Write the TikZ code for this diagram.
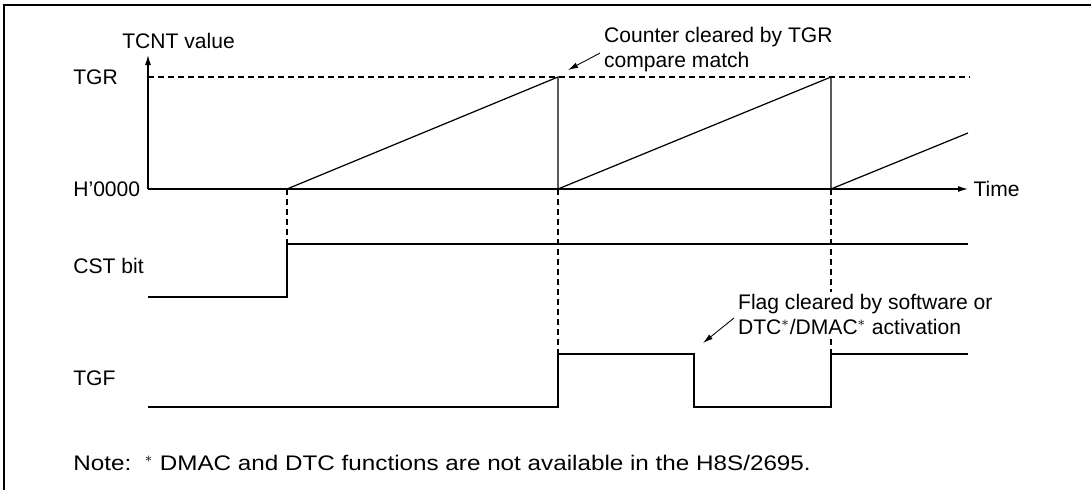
\documentclass[tikz,border=0pt]{standalone}
\usepackage{fontspec}
\setmainfont{Liberation Sans}
\newfontfamily\notefont[FakeStretch=1.15]{Liberation Sans}
\usetikzlibrary{arrows.meta}

\begin{document}
\begin{tikzpicture}[
  x=0.02cm, y=-0.02cm,
  lbl/.style     = {font=\fontsize{12}{14.2}\selectfont, inner sep=0pt},
  callnote/.style = {lbl, align=left, fill=white, inner sep=1pt},
  sig/.style     = {line width=0.7pt, line join=miter},
  guide/.style   = {line width=0.6pt, dash pattern=on 3.4pt off 2.3pt},
  axis/.style    = {line width=0.7pt, -{Latex[length=5.7pt,width=3.4pt]}},
  callout/.style = {line width=0.5pt, -{Latex[length=5.7pt,width=3.2pt]}}
]
\useasboundingbox (0,0) rectangle (1091,490);

% ---- frame ----
\draw[line width=0.8pt] (4,490) -- (4,5) -- (1091,5);

% ---- TCNT value axis ----
\coordinate (o)    at (148,189);
\coordinate (ytop) at (148,55);
\node[lbl, anchor=base west] (tcntlbl) at (122,48) {TCNT value};
\node[lbl, anchor=base west] (tgrlbl)  at (73,84)  {TGR};
\node[lbl, anchor=base west] (zerolbl) at (73,196) {H'0000};
\node[lbl, anchor=west, inner sep=3pt] (timelbl) at (968,189) {Time};
\draw[axis] (o) -- (ytop);
\draw[axis] (o) -- (timelbl.west);
\draw[guide] (148,77) -- (970,77);

% ---- counter ramps ----
\draw[sig] (287,189) -- (558,77) -- (558,189) -- (831,77) -- (831,189) -- (968,133);

% ---- dashed guides ----
\draw[guide] (287,189) -- (287,244);
\draw[guide] (558,189) -- (558,354);
\draw[guide] (831,189) -- (831,354);

% ---- CST bit ----
\node[lbl, anchor=base west] (cstlbl) at (73,273) {CST bit};
\draw[sig] (148,297) -- (287,297) -- (287,244) -- (968,244);

% ---- TGF ----
\node[lbl, anchor=base west] (tgflbl) at (73,385) {TGF};
\draw[sig] (148,407) -- (558,407) -- (558,354) -- (694,354) -- (694,407)
  -- (831,407) -- (831,354) -- (968,354);

% ---- callouts (base = last line) ----
\node[callnote, anchor=base west] (clrnote) at (602,67)
  {Counter cleared by TGR\\compare match};
\coordinate (clrtip) at (568,70);
\draw[callout] ([shift={(-2,4)}]clrnote.west) -- (clrtip);

\node[callnote, anchor=base west] (flagnote) at (736,334)
  {Flag cleared by software or\\DTC$^\ast$/DMAC$^\ast$ activation};
\coordinate (flagtip) at (703,343);
\draw[callout] ([shift={(-2,4)}]flagnote.west) -- (flagtip);

% ---- footnote ----
\node[lbl, anchor=base west] (footnote) at (73,470)
  {\notefont Note:\ \ $^\ast$ DMAC and DTC functions are not available in the H8S/2695.};

\end{tikzpicture}
\end{document}
